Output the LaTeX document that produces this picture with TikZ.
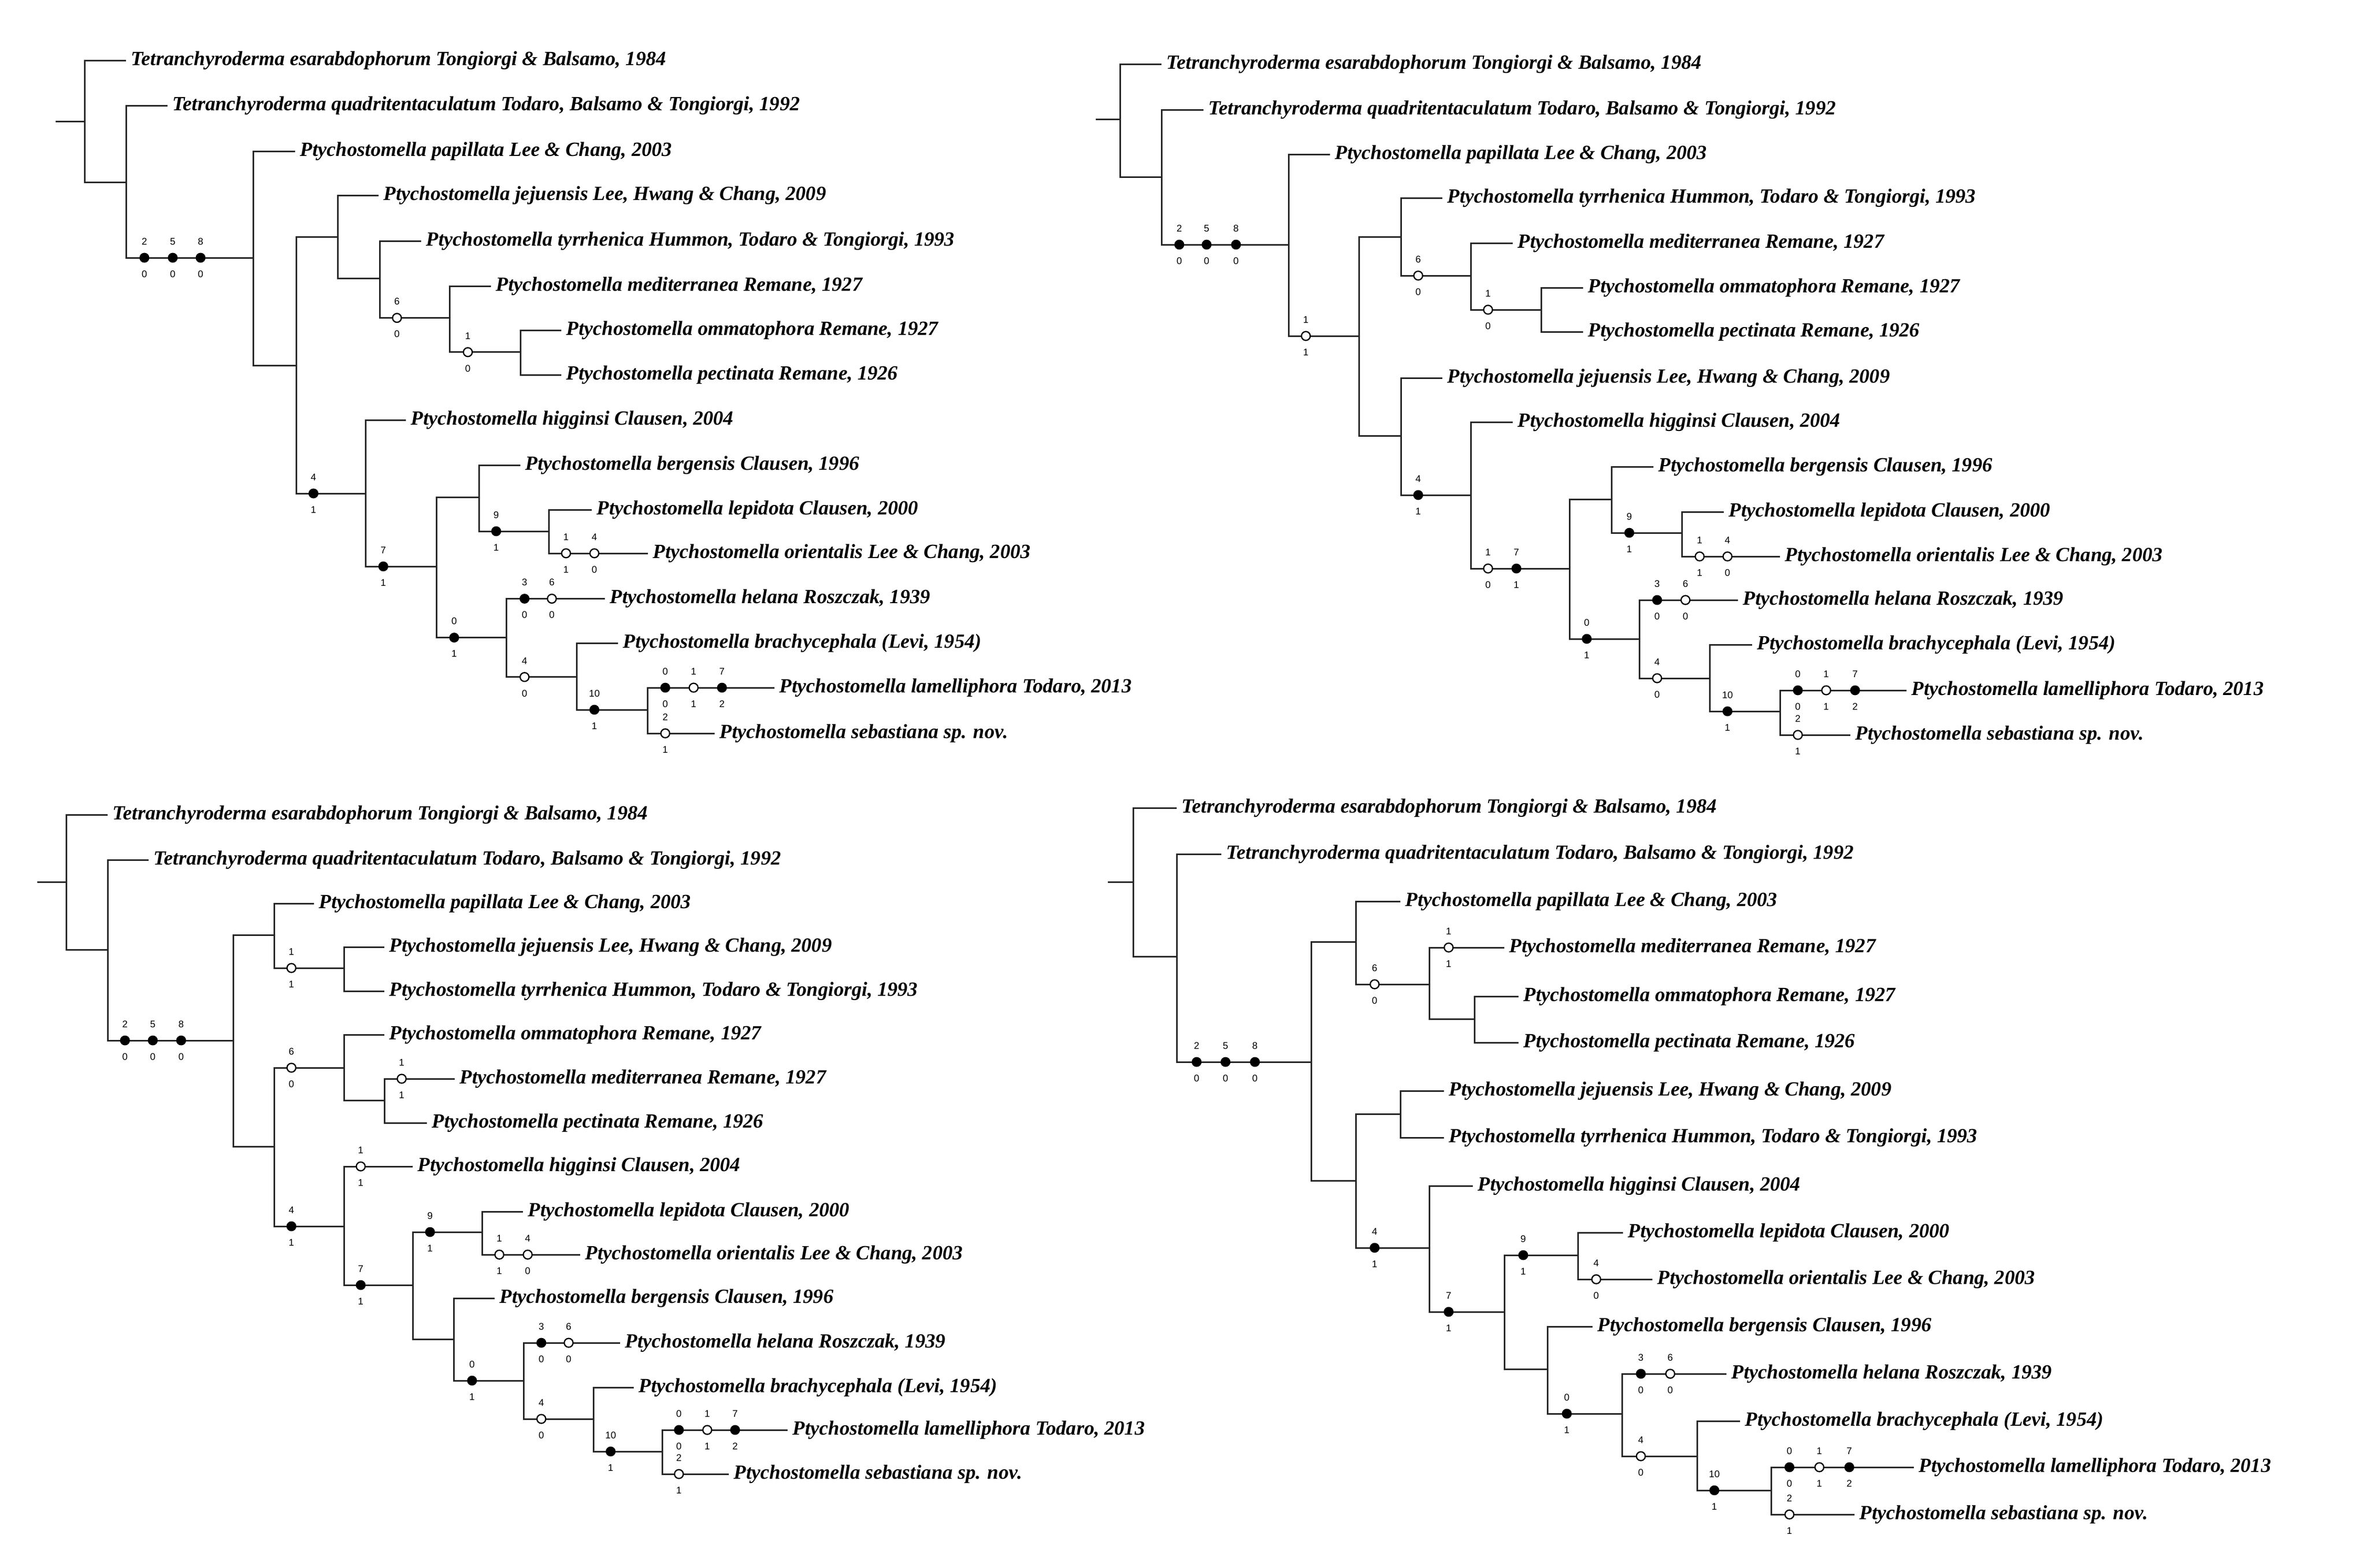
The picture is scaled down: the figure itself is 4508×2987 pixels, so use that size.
\documentclass[tikz,border=0pt]{standalone}
\usepackage{fontspec}
\setmainfont{Liberation Serif}
\newfontfamily\labf{Liberation Sans}
\newcommand\spEsa{Tetranchyroderma esarabdophorum Tongiorgi \& Balsamo, 1984}
\newcommand\spQua{Tetranchyroderma quadritentaculatum Todaro, Balsamo \& Tongiorgi, 1992}
\newcommand\spPap{Ptychostomella papillata Lee \& Chang, 2003}
\newcommand\spJej{Ptychostomella jejuensis Lee, Hwang \& Chang, 2009}
\newcommand\spTyr{Ptychostomella tyrrhenica Hummon, Todaro \& Tongiorgi, 1993}
\newcommand\spMed{Ptychostomella mediterranea Remane, 1927}
\newcommand\spOmm{Ptychostomella ommatophora Remane, 1927}
\newcommand\spPec{Ptychostomella pectinata Remane, 1926}
\newcommand\spHig{Ptychostomella higginsi Clausen, 2004}
\newcommand\spBer{Ptychostomella bergensis Clausen, 1996}
\newcommand\spLep{Ptychostomella lepidota Clausen, 2000}
\newcommand\spOri{Ptychostomella orientalis Lee \& Chang, 2003}
\newcommand\spHel{Ptychostomella helana Roszczak, 1939}
\newcommand\spBra{Ptychostomella brachycephala (Levi, 1954)}
\newcommand\spLam{Ptychostomella lamelliphora Todaro, 2013}
\newcommand\spSeb{Ptychostomella sebastiana sp. nov.}
% tree helpers
\newcommand\lf[4]{\node[taxon] (#1) at (#2,#3) {#4};}
\newcommand\cd[3]{\coordinate (#1) at (#2,#3);}
\newcommand\bl[2]{\draw[br] (#1) |- (#2.west);}
\newcommand\bi[2]{\draw[br] (#1) |- (#2);}
\newcommand\mk[5]{\node[#5] at (#1,#2) {}; \node[lab] at (#1,#2-31) {#3}; \node[lab] at (#1,#2+31) {#4};}
\begin{document}
\begin{tikzpicture}[x=0.25pt,y=-0.25pt,
  br/.style={line width=0.75pt,black!85},
  taxon/.style={anchor=west,inner xsep=2.2pt,inner ysep=0pt,font=\fontsize{9.6}{10}\selectfont\bfseries\itshape},
  lab/.style={inner sep=0pt,font=\labf\fontsize{4.6}{5}\selectfont},
  fm/.style={circle,fill=black,draw=black,line width=0.5pt,inner sep=0pt,minimum size=4.2pt},
  om/.style={circle,fill=white,draw=black,line width=0.6pt,inner sep=0pt,minimum size=4.2pt}]
\useasboundingbox (0,0) rectangle (4508,2987);
\fill[white] (0,0) rectangle (4508,2987);
% ================= TREE 1 =================
\cd{a0}{106}{231.5}\cd{aR}{161}{231.5}\cd{aA}{240}{347.5}\cd{aB}{482}{491}\cd{aC}{564}{696}
\cd{aD}{643}{451}\cd{aE}{723}{530.6}\cd{aF}{856}{605.6}\cd{aG}{991}{670.8}\cd{aH}{696}{940}
\cd{aI}{831}{1079}\cd{aJ}{912}{947.6}\cd{aK}{1045}{1012}\cd{aL}{964}{1214.6}\cd{aM}{1098}{1289.7}\cd{aN}{1233}{1352}
\lf{a1}{240}{115}{\spEsa}\lf{a2}{319}{201}{\spQua}\lf{a3}{562}{288}{\spPap}
\lf{a4}{721}{372.5}{\spJej}\lf{a5}{802}{459}{\spTyr}\lf{a6}{935}{545}{\spMed}
\lf{a7}{1069}{629}{\spOmm}\lf{a8}{1069}{714.6}{\spPec}\lf{a9}{773}{800}{\spHig}
\lf{a10}{991}{886}{\spBer}\lf{a11}{1127}{971}{\spLep}\lf{a12}{1234}{1054}{\spOri}
\lf{a13}{1152}{1140.5}{\spHel}\lf{a14}{1177}{1225}{\spBra}\lf{a15}{1475}{1310}{\spLam}\lf{a16}{1361}{1397}{\spSeb}
\draw[br] (a0) -- (aR);
\bl{aR}{a1}\bi{aR}{aA}\bl{aA}{a2}\bi{aA}{aB}\bl{aB}{a3}\bi{aB}{aC}\bi{aC}{aD}\bi{aC}{aH}
\bl{aD}{a4}\bi{aD}{aE}\bl{aE}{a5}\bi{aE}{aF}\bl{aF}{a6}\bi{aF}{aG}\bl{aG}{a7}\bl{aG}{a8}
\bl{aH}{a9}\bi{aH}{aI}\bi{aI}{aJ}\bi{aI}{aL}\bl{aJ}{a10}\bi{aJ}{aK}\bl{aK}{a11}\bl{aK}{a12}
\bl{aL}{a13}\bi{aL}{aM}\bl{aM}{a14}\bi{aM}{aN}\bl{aN}{a15}\bl{aN}{a16}
\mk{275}{491}{2}{0}{fm}\mk{329}{491}{5}{0}{fm}\mk{382}{491}{8}{0}{fm}
\mk{756}{605.6}{6}{0}{om}\mk{891}{670.8}{1}{0}{om}\mk{597}{940}{4}{1}{fm}
\mk{730}{1079}{7}{1}{fm}\mk{945}{1012}{9}{1}{fm}\mk{1078}{1054}{1}{1}{om}\mk{1132}{1054}{4}{0}{om}
\mk{865}{1214.6}{0}{1}{fm}\mk{999}{1140.5}{3}{0}{fm}\mk{1051}{1140.5}{6}{0}{om}
\mk{999}{1289.7}{4}{0}{om}\mk{1132}{1352}{10}{1}{fm}
\mk{1267}{1310}{0}{0}{fm}\mk{1321}{1310}{1}{1}{om}\mk{1375}{1310}{7}{2}{fm}\mk{1267}{1397}{2}{1}{om}
% ================= TREE 2 =================
\cd{b0}{2087}{227}\cd{bR}{2133}{227}\cd{bA}{2212}{337}\cd{bB}{2454}{466}\cd{bC}{2588}{640}
\cd{bD}{2668}{451}\cd{bE}{2801}{525}\cd{bF}{2935}{590}\cd{bG}{2668}{830}\cd{bH}{2801}{943}
\cd{bI}{2989}{1083}\cd{bJ}{3069}{951}\cd{bK}{3203}{1015}\cd{bL}{3122}{1217}\cd{bM}{3256}{1292}\cd{bN}{3390}{1355}
\lf{b1}{2212}{122.5}{\spEsa}\lf{b2}{2292}{209}{\spQua}\lf{b3}{2533}{294}{\spPap}
\lf{b4}{2747}{377}{\spTyr}\lf{b5}{2881}{463}{\spMed}\lf{b6}{3015}{548}{\spOmm}\lf{b7}{3015}{632}{\spPec}
\lf{b8}{2747}{720}{\spJej}\lf{b9}{2881}{804}{\spHig}\lf{b10}{3149}{889}{\spBer}
\lf{b11}{3283}{975}{\spLep}\lf{b12}{3390}{1060}{\spOri}\lf{b13}{3310}{1143}{\spHel}
\lf{b14}{3337}{1228}{\spBra}\lf{b15}{3631}{1315}{\spLam}\lf{b16}{3524}{1400}{\spSeb}
\draw[br] (b0) -- (bR);
\bl{bR}{b1}\bi{bR}{bA}\bl{bA}{b2}\bi{bA}{bB}\bl{bB}{b3}\bi{bB}{bC}\bi{bC}{bD}\bi{bC}{bG}
\bl{bD}{b4}\bi{bD}{bE}\bl{bE}{b5}\bi{bE}{bF}\bl{bF}{b6}\bl{bF}{b7}
\bl{bG}{b8}\bi{bG}{bH}\bl{bH}{b9}\bi{bH}{bI}\bi{bI}{bJ}\bi{bI}{bL}\bl{bJ}{b10}\bi{bJ}{bK}
\bl{bK}{b11}\bl{bK}{b12}\bl{bL}{b13}\bi{bL}{bM}\bl{bM}{b14}\bi{bM}{bN}\bl{bN}{b15}\bl{bN}{b16}
\mk{2246}{466}{2}{0}{fm}\mk{2298}{466}{5}{0}{fm}\mk{2354}{466}{8}{0}{fm}
\mk{2487}{640}{1}{1}{om}\mk{2701}{525}{6}{0}{om}\mk{2834}{590}{1}{0}{om}\mk{2701}{943}{4}{1}{fm}
\mk{2834}{1083}{1}{0}{om}\mk{2888}{1083}{7}{1}{fm}\mk{3103}{1015}{9}{1}{fm}
\mk{3237}{1060}{1}{1}{om}\mk{3290}{1060}{4}{0}{om}\mk{3022}{1217}{0}{1}{fm}
\mk{3156}{1143}{3}{0}{fm}\mk{3210}{1143}{6}{0}{om}\mk{3156}{1292}{4}{0}{om}\mk{3290}{1355}{10}{1}{fm}
\mk{3424}{1315}{0}{0}{fm}\mk{3478}{1315}{1}{1}{om}\mk{3533}{1315}{7}{2}{fm}\mk{3424}{1400}{2}{1}{om}
% ================= TREE 3 =================
\cd{c0}{71}{1680}\cd{cR}{126}{1680}\cd{cA}{205}{1809}\cd{cB}{444}{1982}\cd{cC}{522}{1781}
\cd{cD}{655}{1844}\cd{cE}{522}{2184}\cd{cF}{655}{2034}\cd{cG}{732}{2096}\cd{cH}{655}{2336}
\cd{cI}{786}{2448}\cd{cJ}{918}{2347}\cd{cK}{864}{2551}\cd{cL}{997}{2630}\cd{cM}{1130}{2703}\cd{cN}{1261}{2765}
\lf{c1}{205}{1552}{\spEsa}\lf{c2}{283}{1638}{\spQua}\lf{c3}{598}{1721}{\spPap}
\lf{c4}{732}{1804}{\spJej}\lf{c5}{732}{1888}{\spTyr}\lf{c6}{732}{1971}{\spOmm}
\lf{c7}{866}{2055}{\spMed}\lf{c8}{813}{2139}{\spPec}\lf{c9}{786}{2222}{\spHig}
\lf{c10}{996}{2308}{\spLep}\lf{c11}{1105}{2390}{\spOri}\lf{c12}{942}{2473}{\spBer}
\lf{c13}{1181}{2558}{\spHel}\lf{c14}{1207}{2643}{\spBra}\lf{c15}{1500}{2724}{\spLam}\lf{c16}{1388}{2808}{\spSeb}
\draw[br] (c0) -- (cR);
\bl{cR}{c1}\bi{cR}{cA}\bl{cA}{c2}\bi{cA}{cB}\bi{cB}{cC}\bi{cB}{cE}\bl{cC}{c3}\bi{cC}{cD}
\bl{cD}{c4}\bl{cD}{c5}\bi{cE}{cF}\bi{cE}{cH}\bl{cF}{c6}\bi{cF}{cG}\bl{cG}{c7}\bl{cG}{c8}
\bl{cH}{c9}\bi{cH}{cI}\bi{cI}{cJ}\bi{cI}{cK}\bl{cJ}{c10}\bl{cJ}{c11}\bl{cK}{c12}\bi{cK}{cL}
\bl{cL}{c13}\bi{cL}{cM}\bl{cM}{c14}\bi{cM}{cN}\bl{cN}{c15}\bl{cN}{c16}
\mk{238}{1982}{2}{0}{fm}\mk{291}{1982}{5}{0}{fm}\mk{345}{1982}{8}{0}{fm}
\mk{555}{1844}{1}{1}{om}\mk{555}{2034}{6}{0}{om}\mk{765}{2055}{1}{1}{om}\mk{555}{2336}{4}{1}{fm}
\mk{687}{2222}{1}{1}{om}\mk{687}{2448}{7}{1}{fm}\mk{819}{2347}{9}{1}{fm}
\mk{951}{2390}{1}{1}{om}\mk{1005}{2390}{4}{0}{om}\mk{899}{2630}{0}{1}{fm}
\mk{1031}{2558}{3}{0}{fm}\mk{1083}{2558}{6}{0}{om}\mk{1031}{2703}{4}{0}{om}\mk{1163}{2765}{10}{1}{fm}
\mk{1293}{2724}{0}{0}{fm}\mk{1347}{2724}{1}{1}{om}\mk{1400}{2724}{7}{2}{fm}\mk{1293}{2808}{2}{1}{om}
% ================= TREE 4 =================
\cd{d0}{2110}{1680}\cd{dR}{2158}{1680}\cd{dA}{2241}{1822}\cd{dB}{2497}{2023}\cd{dC}{2582}{1794}
\cd{dD}{2722}{1875}\cd{dE}{2808}{1941}\cd{dF}{2582}{2249}\cd{dG}{2667}{2122}\cd{dH}{2722}{2377}
\cd{dI}{2865}{2499}\cd{dJ}{3005}{2391}\cd{dK}{2947}{2608}\cd{dL}{3089}{2693}\cd{dM}{3232}{2774}\cd{dN}{3373}{2839}
\lf{d1}{2241}{1539}{\spEsa}\lf{d2}{2326}{1627}{\spQua}\lf{d3}{2667}{1717}{\spPap}
\lf{d4}{2865}{1805}{\spMed}\lf{d5}{2892}{1898}{\spOmm}\lf{d6}{2892}{1986}{\spPec}
\lf{d7}{2750}{2078}{\spJej}\lf{d8}{2750}{2167}{\spTyr}\lf{d9}{2805}{2259}{\spHig}
\lf{d10}{3091}{2348}{\spLep}\lf{d11}{3147}{2437}{\spOri}\lf{d12}{3033}{2527}{\spBer}
\lf{d13}{3288}{2617}{\spHel}\lf{d14}{3314}{2707}{\spBra}\lf{d15}{3645}{2795}{\spLam}\lf{d16}{3532}{2885}{\spSeb}
\draw[br] (d0) -- (dR);
\bl{dR}{d1}\bi{dR}{dA}\bl{dA}{d2}\bi{dA}{dB}\bi{dB}{dC}\bi{dB}{dF}\bl{dC}{d3}\bi{dC}{dD}
\bl{dD}{d4}\bi{dD}{dE}\bl{dE}{d5}\bl{dE}{d6}\bi{dF}{dG}\bi{dF}{dH}\bl{dG}{d7}\bl{dG}{d8}
\bl{dH}{d9}\bi{dH}{dI}\bi{dI}{dJ}\bi{dI}{dK}\bl{dJ}{d10}\bl{dJ}{d11}\bl{dK}{d12}\bi{dK}{dL}
\bl{dL}{d13}\bi{dL}{dM}\bl{dM}{d14}\bi{dM}{dN}\bl{dN}{d15}\bl{dN}{d16}
\mk{2279}{2023}{2}{0}{fm}\mk{2334}{2023}{5}{0}{fm}\mk{2390}{2023}{8}{0}{fm}
\mk{2618}{1875}{6}{0}{om}\mk{2759}{1805}{1}{1}{om}\mk{2618}{2377}{4}{1}{fm}
\mk{2759}{2499}{7}{1}{fm}\mk{2901}{2391}{9}{1}{fm}\mk{3040}{2437}{4}{0}{om}
\mk{2984}{2693}{0}{1}{fm}\mk{3125}{2617}{3}{0}{fm}\mk{3181}{2617}{6}{0}{om}
\mk{3125}{2774}{4}{0}{om}\mk{3265}{2839}{10}{1}{fm}
\mk{3408}{2795}{0}{0}{fm}\mk{3465}{2795}{1}{1}{om}\mk{3522}{2795}{7}{2}{fm}\mk{3408}{2885}{2}{1}{om}
\end{tikzpicture}
\end{document}
